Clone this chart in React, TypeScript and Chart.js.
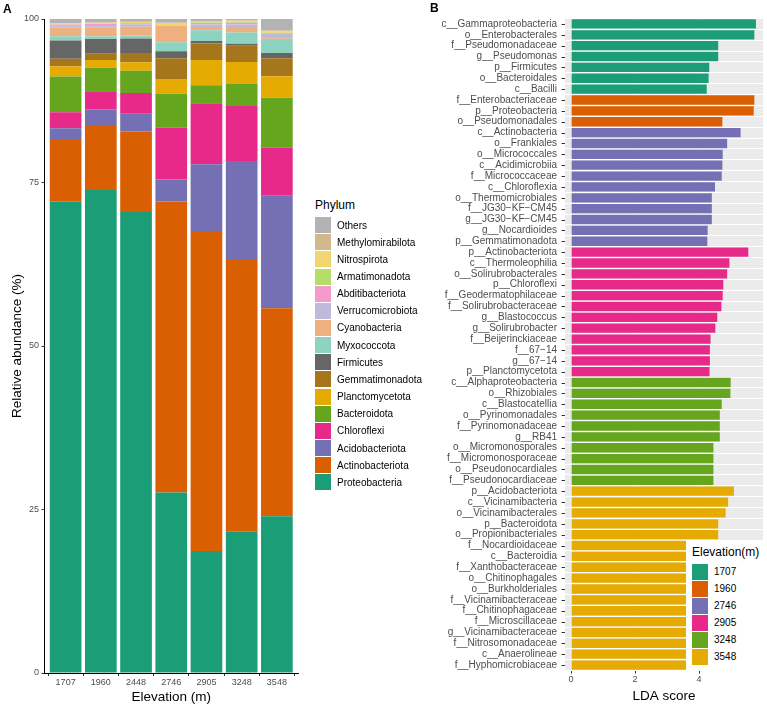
import React, { useEffect, useRef } from 'react';
import { Chart, registerables } from 'chart.js';
Chart.register(...registerables);

const FONT = '"Liberation Sans", Arial, Helvetica, sans-serif';

// ---------- Panel A data ----------
const elevations = ['1707', '1960', '2448', '2746', '2905', '3248', '3548'];
const proteobacteria = [72.1, 73.85, 70.5, 27.6, 18.65, 21.6, 23.96];
const actinobacteriota = [9.4, 9.94, 12.3, 44.5, 48.8, 41.7, 31.8];
const acidobacteriota = [1.8, 2.4, 2.7, 3.36, 10.35, 15.0, 17.2];
const chloroflexi = [2.45, 2.75, 3.17, 7.9, 9.33, 8.4, 7.4];
const bacteroidota = [5.46, 3.6, 3.4, 5.2, 2.75, 3.36, 7.58];
const planctomycetota = [1.57, 1.18, 1.33, 2.25, 3.87, 3.36, 3.3];
const gemmatimonadota = [1.13, 0.96, 1.42, 3.2, 2.5, 2.5, 2.75];
const firmicutes = [2.8, 2.25, 2.2, 1.07, 0.4, 0.3, 0.81];
const myxococcota = [0.66, 0.41, 0.46, 1.38, 1.63, 1.73, 2.0];
const cyanobacteria = [1.33, 1.38, 1.33, 2.5, 0.5, 0.82, 0.25];
const verrucomicrobiota = [0.26, 0.36, 0.4, 0.05, 0.36, 0.4, 0.76];
const abditibacteriota = [0.2, 0.15, 0.15, 0.05, 0.25, 0.25, 0.05];
const armatimonadota = [0.03, 0.03, 0.03, 0.03, 0.08, 0.15, 0.03];
const nitrospirota = [0.15, 0.15, 0.15, 0.3, 0.12, 0.15, 0.2];
const methylomirabilota = [0.05, 0.05, 0.05, 0.05, 0.05, 0.08, 0.2];
const others = [0.61, 0.54, 0.41, 0.56, 0.36, 0.2, 1.71];

const phylumNames = [
  'Proteobacteria', 'Actinobacteriota', 'Acidobacteriota', 'Chloroflexi', 'Bacteroidota',
  'Planctomycetota', 'Gemmatimonadota', 'Firmicutes', 'Myxococcota', 'Cyanobacteria',
  'Verrucomicrobiota', 'Abditibacteriota', 'Armatimonadota', 'Nitrospirota', 'Methylomirabilota', 'Others',
];
const phylumValues = [
  proteobacteria, actinobacteriota, acidobacteriota, chloroflexi, bacteroidota,
  planctomycetota, gemmatimonadota, firmicutes, myxococcota, cyanobacteria,
  verrucomicrobiota, abditibacteriota, armatimonadota, nitrospirota, methylomirabilota, others,
];
const phylumColors = [
  '#1B9E77', '#D95F02', '#7570B3', '#E7298A', '#66A61E',
  '#E6AB02', '#A6761D', '#666666', '#8DD3C0', '#EEB07F',
  '#BEBADA', '#F59BCB', '#B3DE69', '#F2D56E', '#D2B88F', '#B3B3B3',
];
const yTicksA = [0, 25, 50, 75, 100];

// ---------- Panel B data ----------
const groupElevations = ['1707', '1960', '2746', '2905', '3248', '3548'];
const groupColors = ['#1B9E77', '#D95F02', '#7570B3', '#E7298A', '#66A61E', '#E6AB02'];

const taxa1707 = ['c__Gammaproteobacteria', 'o__Enterobacterales', 'f__Pseudomonadaceae', 'g__Pseudomonas', 'p__Firmicutes', 'o__Bacteroidales', 'c__Bacilli'];
const lda1707 = [5.78, 5.73, 4.6, 4.6, 4.32, 4.3, 4.24];
const taxa1960 = ['f__Enterobacteriaceae', 'p__Proteobacteria', 'o__Pseudomonadales'];
const lda1960 = [5.73, 5.71, 4.73];
const taxa2746 = ['c__Actinobacteria', 'o__Frankiales', 'o__Micrococcales', 'c__Acidimicrobiia', 'f__Micrococcaceae', 'c__Chloroflexia', 'o__Thermomicrobiales', 'f__JG30\u2212KF\u2212CM45', 'g__JG30\u2212KF\u2212CM45', 'g__Nocardioides', 'p__Gemmatimonadota'];
const lda2746 = [5.3, 4.88, 4.74, 4.73, 4.71, 4.5, 4.4, 4.4, 4.4, 4.27, 4.26];
const taxa2905 = ['p__Actinobacteriota', 'c__Thermoleophilia', 'o__Solirubrobacterales', 'p__Chloroflexi', 'f__Geodermatophilaceae', 'f__Solirubrobacteraceae', 'g__Blastococcus', 'g__Solirubrobacter', 'f__Beijerinckiaceae', 'f__67\u221214', 'g__67\u221214', 'p__Planctomycetota'];
const lda2905 = [5.54, 4.95, 4.88, 4.76, 4.74, 4.7, 4.57, 4.51, 4.36, 4.34, 4.34, 4.33];
const taxa3248 = ['c__Alphaproteobacteria', 'o__Rhizobiales', 'c__Blastocatellia', 'o__Pyrinomonadales', 'f__Pyrinomonadaceae', 'g__RB41', 'o__Micromonosporales', 'f__Micromonosporaceae', 'o__Pseudonocardiales', 'f__Pseudonocardiaceae'];
const lda3248 = [4.99, 4.98, 4.71, 4.65, 4.65, 4.65, 4.45, 4.45, 4.45, 4.45];
const taxa3548 = ['p__Acidobacteriota', 'c__Vicinamibacteria', 'o__Vicinamibacterales', 'p__Bacteroidota', 'o__Propionibacteriales', 'f__Nocardioidaceae', 'c__Bacteroidia', 'f__Xanthobacteraceae', 'o__Chitinophagales', 'o__Burkholderiales', 'f__Vicinamibacteraceae', 'f__Chitinophagaceae', 'f__Microscillaceae', 'g__Vicinamibacteraceae', 'f__Nitrosomonadaceae', 'c__Anaerolineae', 'f__Hyphomicrobiaceae'];
const lda3548 = [5.09, 4.91, 4.83, 4.6, 4.6, 4.57, 4.55, 4.5, 4.47, 4.44, 4.4, 4.38, 4.33, 4.3, 4.26, 4.21, 4.15];

const groupTaxa = [taxa1707, taxa1960, taxa2746, taxa2905, taxa3248, taxa3548];
const groupLda = [lda1707, lda1960, lda2746, lda2905, lda3248, lda3548];
const xTicksB = [0, 2, 4];

function PanelA() {
  const ref = useRef<HTMLCanvasElement>(null);
  useEffect(() => {
    const chart = new Chart(ref.current!, {
      type: 'bar',
      data: {
        datasets: phylumNames.map((name, i) => ({
          label: name,
          data: phylumValues[i].map((v, j) => ({ x: j + 1, y: v })),
          backgroundColor: phylumColors[i],
          borderWidth: 0,
          barPercentage: 0.9,
          categoryPercentage: 1,
        })),
      },
      options: {
        animation: false,
        responsive: false,
        maintainAspectRatio: false,
        layout: { padding: { top: 19, right: 2, left: 0, bottom: 0 } },
        plugins: { legend: { display: false }, tooltip: { enabled: false } },
        scales: {
          x: {
            type: 'linear',
            min: 0.4,
            max: 7.6,
            stacked: true,
            offset: false,
            afterBuildTicks: (s: any) => { s.ticks = elevations.map((_, i) => ({ value: i + 1 })); },
            afterFit: (s: any) => { s.height = 34; },
            ticks: {
              callback: (v: any) => elevations[Number(v) - 1] ?? '',
              font: { size: 9, family: FONT },
              color: '#4D4D4D',
              padding: 1,
              maxRotation: 0,
              autoSkip: false,
            },
            grid: { display: true, drawOnChartArea: false, drawTicks: true, tickLength: 3, tickColor: '#333333' },
            border: { display: true, color: '#000000', width: 1 },
            title: { display: true, text: 'Elevation (m)', font: { size: 13.5, family: FONT }, color: '#000000', padding: { top: 0, bottom: 2 } },
          },
          y: {
            type: 'linear',
            min: 0,
            max: 100,
            stacked: true,
            afterBuildTicks: (s: any) => { s.ticks = yTicksA.map((v) => ({ value: v })); },
            afterFit: (s: any) => { s.width = 44.5; },
            ticks: { font: { size: 9, family: FONT }, color: '#4D4D4D', padding: 2.5 },
            grid: { display: true, drawOnChartArea: false, drawTicks: true, tickLength: 3, tickColor: '#333333' },
            border: { display: true, color: '#000000', width: 1 },
            title: { display: true, text: 'Relative abundance (%)', font: { size: 13.5, family: FONT }, color: '#000000', padding: { top: 9, bottom: 0 } },
          },
        },
      },
    } as any);
    return () => chart.destroy();
  }, []);
  return <canvas ref={ref} width={300} height={707} style={{ position: 'absolute', left: 0, top: 0, width: 300, height: 707 }} />;
}

const bgPlugin = {
  id: 'panelBg',
  beforeDraw(chart: any) {
    const { ctx, chartArea } = chart;
    ctx.save();
    ctx.fillStyle = '#EBEBEB';
    ctx.fillRect(chartArea.left, chartArea.top, chartArea.right - chartArea.left, chartArea.bottom - chartArea.top);
    ctx.restore();
  },
};

const yTickMarks = {
  id: 'yTickMarks',
  afterDraw(chart: any) {
    const { ctx, chartArea } = chart;
    const ys = chart.scales.y;
    ctx.save();
    ctx.strokeStyle = '#333333';
    ctx.lineWidth = 1;
    ctx.beginPath();
    for (let i = 0; i < ys.ticks.length; i++) {
      const y = Math.round(ys.getPixelForTick(i)) + 0.5;
      ctx.moveTo(chartArea.left - 3.5, y);
      ctx.lineTo(chartArea.left, y);
    }
    ctx.stroke();
    ctx.restore();
  },
};

function PanelB() {
  const ref = useRef<HTMLCanvasElement>(null);
  useEffect(() => {
    const labels: string[] = [];
    const values: number[] = [];
    const colors: string[] = [];
    groupTaxa.forEach((taxa, g) => {
      taxa.forEach((t, k) => {
        labels.push(t);
        values.push(groupLda[g][k]);
        colors.push(groupColors[g]);
      });
    });
    const chart = new Chart(ref.current!, {
      type: 'bar',
      data: {
        labels,
        datasets: [{ label: 'LDA', data: values, backgroundColor: colors, borderWidth: 0, barPercentage: 0.86, categoryPercentage: 1 }],
      },
      options: {
        indexAxis: 'y',
        animation: false,
        responsive: false,
        maintainAspectRatio: false,
        layout: { padding: { top: 18.5, right: 4, left: 0, bottom: 0 } },
        plugins: { legend: { display: false }, tooltip: { enabled: false } },
        scales: {
          x: {
            type: 'linear',
            min: -0.19,
            max: 6.0,
            afterBuildTicks: (s: any) => { s.ticks = xTicksB.map((v) => ({ value: v })); },
            afterFit: (s: any) => { s.height = 36.5; },
            ticks: { font: { size: 9, family: FONT }, color: '#4D4D4D', padding: 1, maxRotation: 0 },
            grid: { display: true, color: '#FFFFFF', lineWidth: 1, drawTicks: true, tickLength: 3, tickColor: '#333333' },
            border: { display: false },
            title: { display: true, text: 'LDA score', font: { size: 13.5, family: FONT }, color: '#000000', padding: { top: 0, bottom: 3 } },
          },
          y: {
            type: 'category',
            offset: true,
            afterFit: (s: any) => { s.width = 145; },
            ticks: { font: { size: 10, family: FONT }, color: '#4D4D4D', padding: 8, autoSkip: false },
            grid: { display: true, offset: true, color: '#FFFFFF', lineWidth: 1, drawTicks: false },
            border: { display: false },
          },
        },
      },
      plugins: [bgPlugin, yTickMarks],
    } as any);
    return () => chart.destroy();
  }, []);
  return <canvas ref={ref} width={347} height={707} style={{ position: 'absolute', left: 420, top: 0, width: 347, height: 707 }} />;
}

export default function App() {
  const legendA = phylumNames.map((n, i) => ({ n, c: phylumColors[i] })).reverse();
  return (
    <div style={{ position: 'fixed', left: 0, top: 0, width: 767, height: 707, background: '#FFFFFF', fontFamily: FONT, overflow: 'hidden' }}>
      <PanelA />
      <PanelB />
      <div style={{ position: 'absolute', left: 3, top: 2, fontSize: 12, fontWeight: 'bold', lineHeight: '14px' }}>A</div>
      <div style={{ position: 'absolute', left: 430, top: 1, fontSize: 12, fontWeight: 'bold', lineHeight: '14px' }}>B</div>

      {/* Legend A */}
      <div style={{ position: 'absolute', left: 315, top: 198, fontSize: 12, lineHeight: '14px', color: '#000' }}>Phylum</div>
      {legendA.map((it, i) => (
        <div key={it.n} style={{ position: 'absolute', left: 315, top: 216.5 + i * 17.15, height: 17.15, display: 'flex', alignItems: 'center' }}>
          <div style={{ width: 16, height: 16, background: it.c }} />
          <div style={{ marginLeft: 6, fontSize: 10, color: '#000', whiteSpace: 'nowrap' }}>{it.n}</div>
        </div>
      ))}

      {/* Legend B */}
      <div style={{ position: 'absolute', left: 686, top: 540, width: 78, height: 131, background: '#FFFFFF' }}>
        <div style={{ position: 'absolute', left: 6, top: 5, fontSize: 12, lineHeight: '14px', color: '#000', whiteSpace: 'nowrap' }}>Elevation(m)</div>
        {groupElevations.map((e, i) => (
          <div key={e} style={{ position: 'absolute', left: 6, top: 23 + i * 17, height: 17, display: 'flex', alignItems: 'center' }}>
            <div style={{ width: 16, height: 16, background: groupColors[i] }} />
            <div style={{ marginLeft: 6, fontSize: 10, color: '#000' }}>{e}</div>
          </div>
        ))}
      </div>
    </div>
  );
}
